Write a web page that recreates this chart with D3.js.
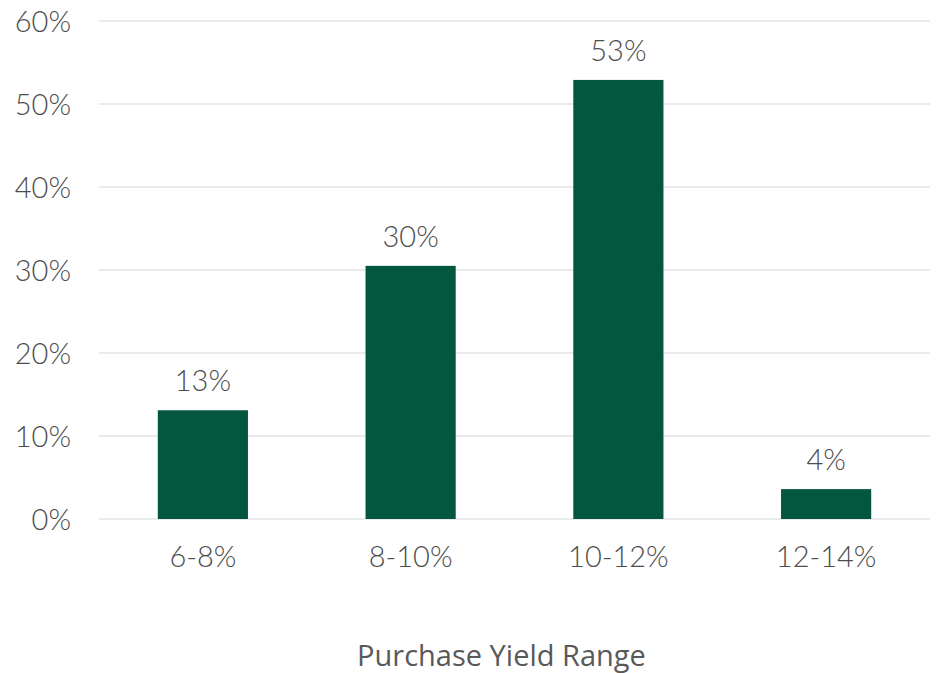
<!DOCTYPE html>
<html>
<head>
<meta charset="utf-8">
<script src="https://cdn.jsdelivr.net/npm/d3@7"></script>
<style>
  body { margin: 0; background: #fff; }
  text { font-family: "Open Sans", sans-serif; }
  .light { font-family: Lato, "Open Sans", sans-serif; font-weight: 300; }
</style>
</head>
<body>
<script>
// data
var categories = ["6-8%", "8-10%", "10-12%", "12-14%"];
var values = [13.1, 30.5, 52.9, 3.6];
var labels = ["13%", "30%", "53%", "4%"];
var yTicks = [0, 10, 20, 30, 40, 50, 60];

var w = 938, h = 673;
var margin = {top: 21, right: 8, bottom: 154, left: 99};

var svg = d3.select("body")
            .append("svg")
            .attr("width", w)
            .attr("height", h);

var xScale = d3.scaleBand()
               .domain(categories)
               .range([margin.left, w - margin.right])
               .paddingInner(0.566)
               .paddingOuter(0.283);

var yScale = d3.scaleLinear()
               .domain([0, 60])
               .range([h - margin.bottom, margin.top]);

// gridlines
svg.append("g")
   .selectAll("line")
   .data(yTicks)
   .enter().append("line")
    .attr("x1", margin.left)
    .attr("x2", w - margin.right)
    .attr("y1", function(d) { return yScale(d); })
    .attr("y2", function(d) { return yScale(d); })
    .style("stroke", "#e3e3e3")
    .style("stroke-width", 1.5);

// y axis labels
svg.append("g")
   .selectAll("text")
   .data(yTicks)
   .enter().append("text")
    .attr("class", "light")
    .attr("x", 71)
    .attr("y", function(d) { return yScale(d) + 11; })
    .attr("text-anchor", "end")
    .style("font-size", "29px")
    .style("fill", "#4d4d4d")
    .text(function(d) { return d + "%"; });

// bars
svg.selectAll("rect.bar")
   .data(values)
   .enter().append("rect")
    .attr("class", "bar")
    .attr("x", function(d, i) { return xScale(categories[i]); })
    .attr("width", xScale.bandwidth())
    .attr("y", function(d) { return yScale(d); })
    .attr("height", function(d) { return yScale(0) - yScale(d); })
    .style("fill", "#03573f");

// value labels
svg.selectAll("text.val")
   .data(values)
   .enter().append("text")
    .attr("class", "val light")
    .attr("x", function(d, i) { return xScale(categories[i]) + xScale.bandwidth() / 2; })
    .attr("y", function(d) { return yScale(d) - 19; })
    .attr("text-anchor", "middle")
    .style("font-size", "29px")
    .style("fill", "#4d4d4d")
    .text(function(d, i) { return labels[i]; });

// category labels
svg.selectAll("text.cat")
   .data(categories)
   .enter().append("text")
    .attr("class", "cat light")
    .attr("x", function(d) { return xScale(d) + xScale.bandwidth() / 2; })
    .attr("y", 567)
    .attr("text-anchor", "middle")
    .style("font-size", "29px")
    .style("fill", "#4d4d4d")
    .text(function(d) { return d; });

// axis title
svg.append("text")
   .attr("x", (margin.left + w - margin.right) / 2 - 13)
   .attr("y", 666)
   .attr("text-anchor", "middle")
   .style("font-size", "29px")
   .style("fill", "#595959")
   .text("Purchase Yield Range");
</script>
</body>
</html>
